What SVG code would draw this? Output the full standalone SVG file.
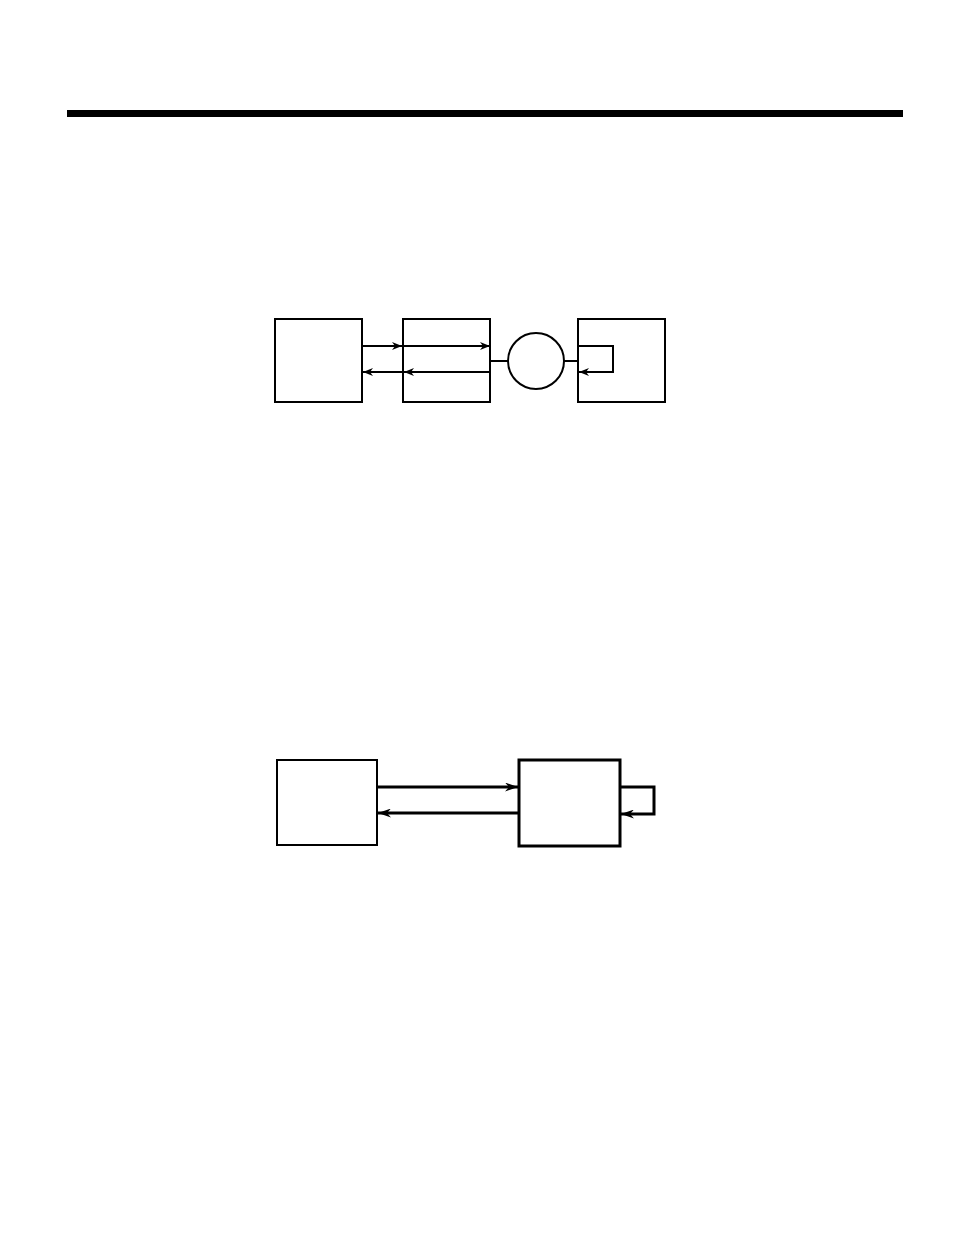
<svg xmlns="http://www.w3.org/2000/svg" width="954" height="1256" viewBox="0 0 954 1256">
<defs>
<style>
.box{fill:#fff;stroke:#000;stroke-width:2}
.boxb{fill:#fff;stroke:#000;stroke-width:3}
.ln{fill:none;stroke:#000;stroke-width:2}
.lnb{fill:none;stroke:#000;stroke-width:3}
</style>
<marker id="ah" viewBox="0 0 10 8" refX="10" refY="4" markerWidth="10" markerHeight="8" markerUnits="userSpaceOnUse" orient="auto">
<path d="M0,0 L10,4 L0,8 L3,4 Z" fill="#000"/>
</marker>
<marker id="ahb" viewBox="0 0 13 9" refX="13" refY="4.5" markerWidth="13" markerHeight="9" markerUnits="userSpaceOnUse" orient="auto">
<path d="M0,0 L13,4.5 L0,9 L4,4.5 Z" fill="#000"/>
</marker>
</defs>
<rect id="rule" x="67" y="110" width="836" height="7" fill="#000"/>
<g id="d1-box1"><rect class="box" x="275" y="319" width="87" height="83"/></g>
<g id="d1-box2"><rect class="box" x="403" y="319" width="87" height="83"/></g>
<g id="d1-circle"><circle class="box" cx="536" cy="361" r="28"/></g>
<g id="d1-box3"><rect class="box" x="578" y="319" width="87" height="83"/></g>
<g id="d2-boxA"><rect class="box" x="277" y="760" width="100" height="85"/></g>
<g id="d2-boxB"><rect class="boxb" x="519" y="760" width="101" height="86"/></g>
<g id="connectors">
<line class="ln" x1="362" y1="346" x2="402" y2="346" marker-end="url(#ah)"/>
<line class="ln" x1="403" y1="346" x2="490" y2="346" marker-end="url(#ah)"/>
<line class="ln" x1="490" y1="372" x2="404" y2="372" marker-end="url(#ah)"/>
<line class="ln" x1="404" y1="372" x2="363" y2="372" marker-end="url(#ah)"/>
<line class="ln" x1="490" y1="361" x2="508" y2="361"/>
<line class="ln" x1="564" y1="361" x2="578" y2="361"/>
<polyline class="ln" points="578,346 613,346 613,372 579,372" marker-end="url(#ah)"/>
<line class="lnb" x1="377" y1="787" x2="518" y2="787" marker-end="url(#ahb)"/>
<line class="lnb" x1="519" y1="813" x2="378" y2="813" marker-end="url(#ahb)"/>
<polyline class="lnb" points="620,787 654,787 654,814 621,814" marker-end="url(#ahb)"/>
</g>
</svg>
